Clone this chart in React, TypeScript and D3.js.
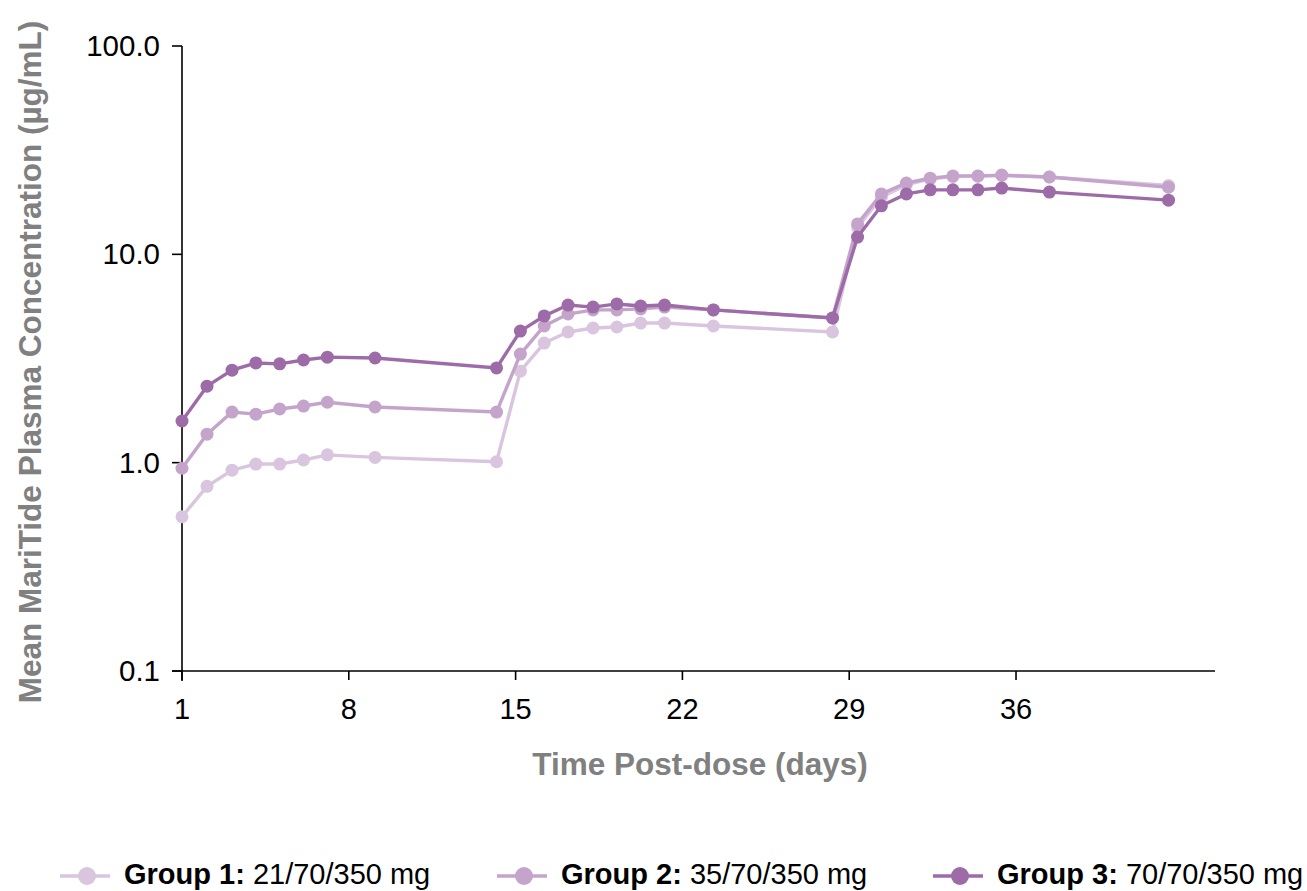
import React, { useEffect, useRef } from "react";
import * as d3 from "d3";

const days = [1, 2.05, 3.1, 4.1, 5.1, 6.1, 7.1, 9.1, 14.2, 15.2, 16.2, 17.2, 18.25, 19.25, 20.25, 21.25, 23.3, 28.3, 29.35, 30.35, 31.4, 32.4, 33.35, 34.4, 35.4, 37.4, 42.4];

const group1 = [0.55, 0.77, 0.92, 0.985, 0.985, 1.03, 1.09, 1.06, 1.01, 2.75, 3.75, 4.24, 4.43, 4.48, 4.68, 4.68, 4.53, 4.24, 13.5, 18.8, 21.6, 23.0, 23.6, 23.7, 23.9, 23.5, 21.4];
const group2 = [0.94, 1.37, 1.75, 1.71, 1.81, 1.87, 1.95, 1.85, 1.75, 3.32, 4.53, 5.17, 5.41, 5.41, 5.47, 5.58, 5.41, 4.95, 14.0, 19.5, 22.0, 23.2, 23.8, 23.8, 24.0, 23.5, 21.0];
const group3 = [1.585, 2.33, 2.78, 3.01, 2.98, 3.11, 3.21, 3.18, 2.85, 4.28, 5.06, 5.71, 5.58, 5.78, 5.65, 5.71, 5.41, 4.95, 12.1, 17.1, 19.5, 20.4, 20.4, 20.4, 20.8, 19.9, 18.2];

const xTicks = [1, 8, 15, 22, 29, 36];
const yTicks = [0.1, 1, 10, 100];

const seriesNames = ["Group 1:", "Group 2:", "Group 3:"];
const seriesDoses = ["21/70/350 mg", "35/70/350 mg", "70/70/350 mg"];
const seriesColors = ["#dac5df", "#c4a4cb", "#9d6ba8"];

export default function App() {
  const ref = useRef<SVGSVGElement>(null);

  useEffect(() => {
    const svg = d3.select(ref.current);
    svg.selectAll("*").remove();
    const font = "'Liberation Sans', Arial, sans-serif";

    const x = d3.scaleLinear().domain([1, 44.35]).range([182, 1215]);
    const y = d3.scaleLog().domain([0.1, 100]).range([671, 46]);

    // axes
    const xAxis = svg.append("g").attr("transform", "translate(0,671)");
    xAxis.append("line").attr("x1", 172).attr("x2", 1215).attr("y1", 0).attr("y2", 0)
      .attr("stroke", "#000").attr("stroke-width", 1.6);
    xTicks.forEach((t) => {
      xAxis.append("line").attr("x1", x(t)).attr("x2", x(t)).attr("y1", 0).attr("y2", 9)
        .attr("stroke", "#000").attr("stroke-width", 1.6);
      xAxis.append("text").attr("x", x(t)).attr("y", 48).attr("text-anchor", "middle")
        .attr("font-family", font).attr("font-size", 29).attr("fill", "#000").text(String(t));
    });

    const yAxis = svg.append("g");
    yAxis.append("line").attr("x1", 182).attr("x2", 182).attr("y1", y(100)).attr("y2", 681)
      .attr("stroke", "#000").attr("stroke-width", 1.6);
    yTicks.forEach((t) => {
      yAxis.append("line").attr("x1", 172).attr("x2", 182).attr("y1", y(t)).attr("y2", y(t))
        .attr("stroke", "#000").attr("stroke-width", 1.6);
      yAxis.append("text").attr("x", 160).attr("y", y(t) + 10).attr("text-anchor", "end")
        .attr("font-family", font).attr("font-size", 29.5).attr("fill", "#000").text(t.toFixed(1));
    });

    // titles
    svg.append("text").attr("x", 700).attr("y", 775).attr("text-anchor", "middle")
      .attr("font-family", font).attr("font-size", 31.5).attr("font-weight", "bold")
      .attr("fill", "#808080").text("Time Post-dose (days)");
    svg.append("text").attr("transform", "translate(41,362) rotate(-90)").attr("text-anchor", "middle")
      .attr("font-family", font).attr("font-size", 31.5).attr("font-weight", "bold")
      .attr("fill", "#808080").text("Mean MariTide Plasma Concentration (µg/mL)");

    const all = [group1, group2, group3];
    const line = d3.line<number>().x((_, i) => x(days[i])).y((d) => y(d));
    all.forEach((vals, k) => {
      const g = svg.append("g");
      g.append("path").datum(vals).attr("d", line).attr("fill", "none")
        .attr("stroke", seriesColors[k]).attr("stroke-width", 3.4);
      g.selectAll("circle").data(vals).enter().append("circle")
        .attr("cx", (_, i) => x(days[i])).attr("cy", (d) => y(d)).attr("r", 6.5)
        .attr("fill", seriesColors[k]);
    });

    // legend
    const legX = [60, 497, 933];
    seriesNames.forEach((name, k) => {
      const g = svg.append("g").attr("transform", `translate(${legX[k]},876)`);
      g.append("line").attr("x1", 0).attr("x2", 50).attr("y1", 0).attr("y2", 0)
        .attr("stroke", seriesColors[k]).attr("stroke-width", 3.5);
      g.append("circle").attr("cx", 27).attr("cy", 0).attr("r", 9).attr("fill", seriesColors[k]);
      const t = g.append("text").attr("x", 64).attr("y", 8).attr("font-family", font)
        .attr("font-size", 29).attr("fill", "#000");
      t.append("tspan").attr("font-weight", "bold").text(name + " ");
      t.append("tspan").text(seriesDoses[k]);
    });
  }, []);

  return (
    <svg ref={ref} width={1307} height={891}
      style={{ position: "absolute", left: 0, top: 0, background: "#fff" }} />
  );
}
